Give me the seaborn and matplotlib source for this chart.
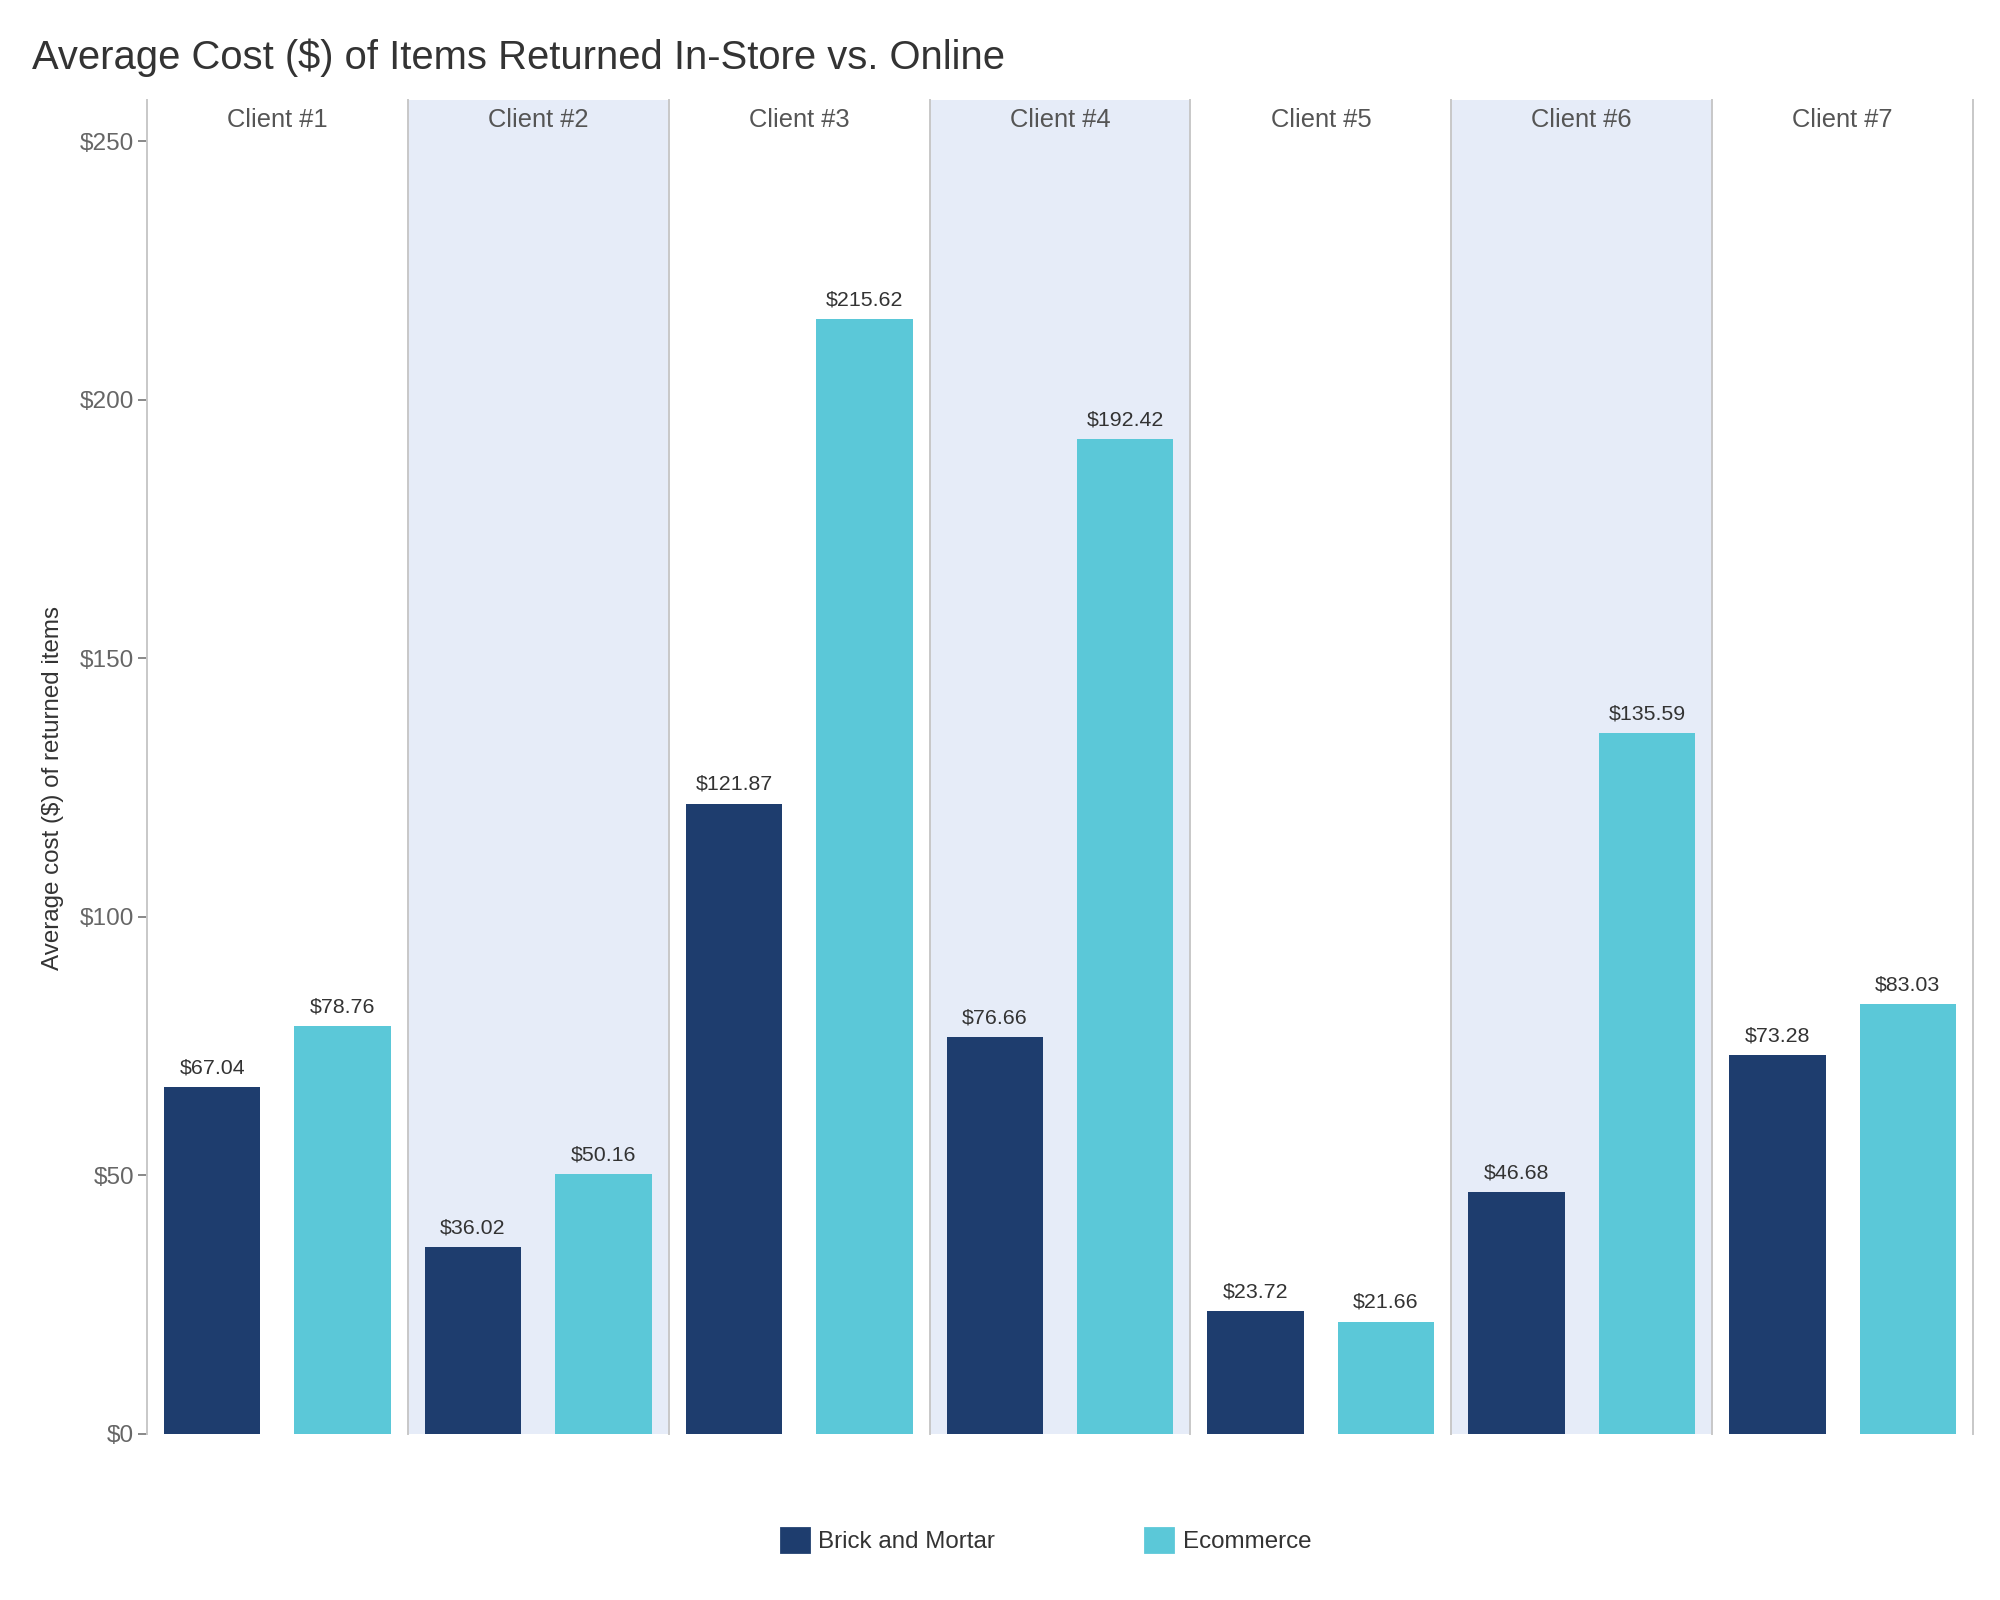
import pandas as pd
import matplotlib.pyplot as plt
import matplotlib.patches as mpatches
import seaborn as sns

clients = ["Client #1", "Client #2", "Client #3", "Client #4", "Client #5", "Client #6", "Client #7"]
brick_mortar = [67.04, 36.02, 121.87, 76.66, 23.72, 46.68, 73.28]
ecommerce = [78.76, 50.16, 215.62, 192.42, 21.66, 135.59, 83.03]
channels = ["Brick and Mortar", "Ecommerce"]
y_ticks = [0, 50, 100, 150, 200, 250]

colors = {"Brick and Mortar": "#1E3D6E", "Ecommerce": "#5BC8D8"}
band_color = "#E6ECF8"
line_color = "#C8C8C8"

# long table for seaborn
df = pd.DataFrame({
    "client": clients * 2,
    "channel": [channels[0]] * len(clients) + [channels[1]] * len(clients),
    "cost": brick_mortar + ecommerce,
})

sns.set_style("white")
plt.rcParams["font.family"] = ["Liberation Sans", "DejaVu Sans"]

g = sns.FacetGrid(df, col="client", col_order=clients, sharey=True, sharex=True, despine=False)
g.map_dataframe(sns.barplot, x="channel", y="cost", hue="channel", order=channels,
                hue_order=channels, palette=colors, width=0.74, errorbar=None,
                saturation=1, legend=False, linewidth=0)
g.fig.set_size_inches(10, 8)
g.fig.subplots_adjust(left=0.0735, right=0.9865, top=0.9375, bottom=0.104, wspace=0)

for i, (ax, name) in enumerate(zip(g.axes.flat, clients)):
    ax.set_title("")
    ax.set_xlabel("")
    ax.set_ylabel("")
    ax.set_xticks([])
    ax.set_xlim(-0.5, 1.5)
    ax.set_ylim(0, 258)
    ax.set_facecolor(band_color if i % 2 == 1 else "white")
    for side in ["top", "bottom", "right"]:
        ax.spines[side].set_visible(False)
    ax.spines["left"].set_visible(True)
    ax.spines["left"].set_color(line_color)
    ax.spines["left"].set_linewidth(0.7)
    if i == len(clients) - 1:
        ax.spines["right"].set_visible(True)
        ax.spines["right"].set_color(line_color)
        ax.spines["right"].set_linewidth(0.7)
    ax.text(0.5, 0.985, name, transform=ax.transAxes, ha="center", va="center",
            fontsize=9.2, color="#555555")
    for cont in ax.containers:
        ax.bar_label(cont, fmt="${:.2f}", padding=3.5, fontsize=7.7, color="#333333")
    if i == 0:
        ax.set_yticks(y_ticks)
        ax.set_yticklabels(["$" + str(v) for v in y_ticks])
        ax.tick_params(axis="y", left=True, length=3.2, width=0.7, color="#888888",
                       labelsize=8.8, labelcolor="#666666", pad=1.5)
        ax.set_ylabel("Average cost ($) of returned items", fontsize=8.7, color="#333333")
        ax.yaxis.set_label_coords(-0.32, 0.484)
    else:
        ax.tick_params(axis="y", left=False, labelleft=False)

g.fig.text(0.016, 1 - 58 / 1600, "Average Cost ($) of Items Returned In-Store vs. Online",
           fontsize=14.4, color="#333333", ha="left", va="center")

handles = [mpatches.Patch(color=colors[c], label=c) for c in channels]
g.fig.legend(handles=handles, loc="center", bbox_to_anchor=(0.523, 0.037), ncol=2,
             frameon=False, fontsize=8.7, handlelength=1.15, handleheight=1.15,
             handletextpad=0.4, columnspacing=6.2, labelcolor="#333333")

g.fig.savefig("out.png", dpi=200)
